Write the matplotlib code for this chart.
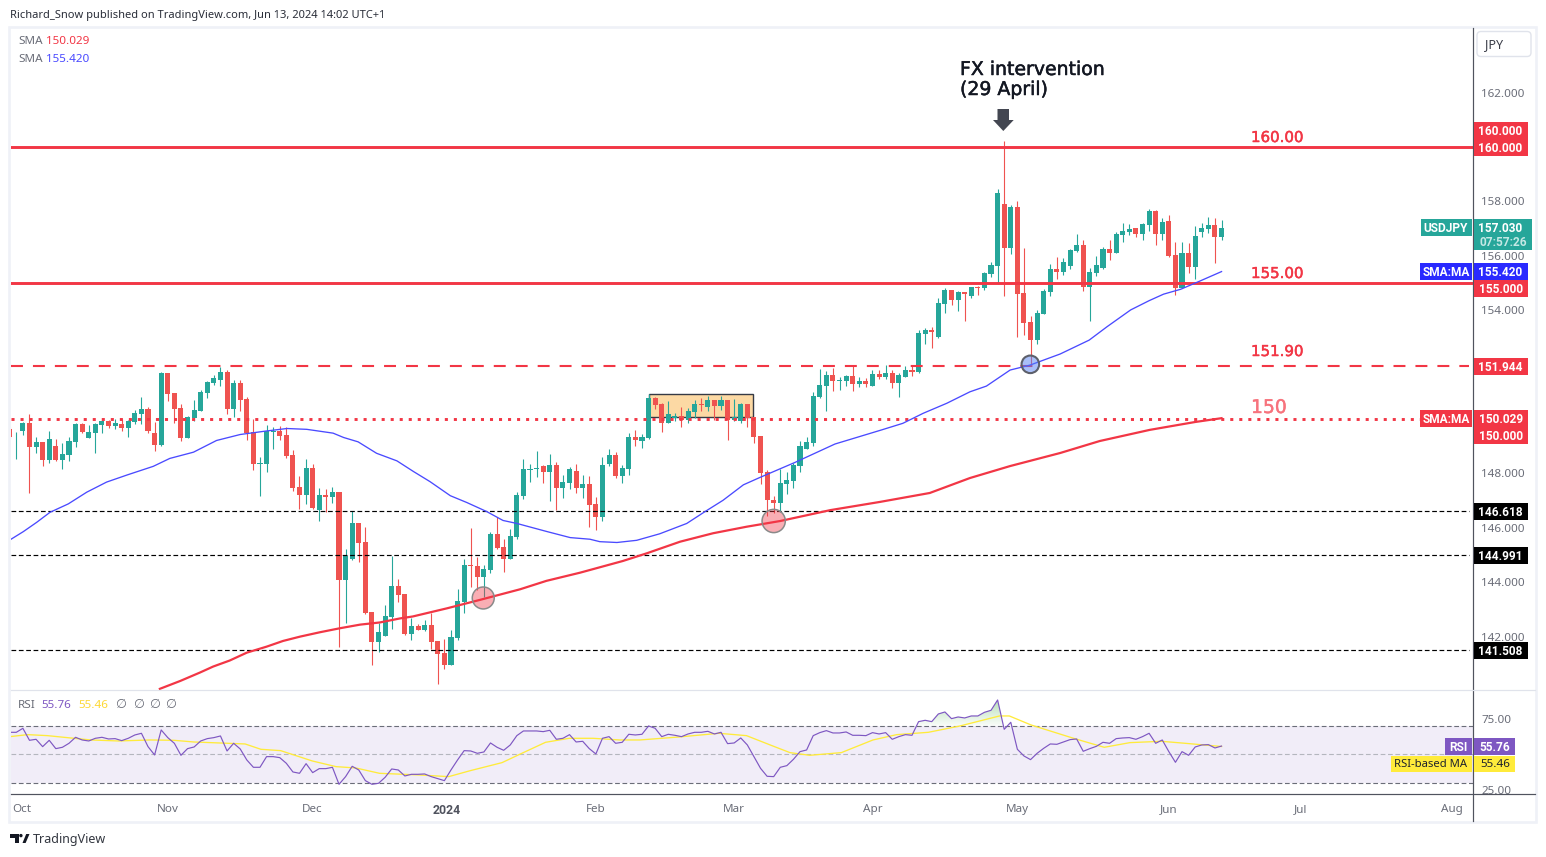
import numpy as np
import matplotlib
matplotlib.use("Agg")
import matplotlib.pyplot as plt
import matplotlib.patheffects as pe
from matplotlib.patches import Rectangle, Polygon, FancyBboxPatch, Circle
from matplotlib.path import Path
from matplotlib.transforms import Affine2D

plt.rcParams['font.family'] = ['Noto Sans', 'DejaVu Sans']
plt.rcParams['lines.scale_dashes'] = False

W, H = 1546, 857

# ------------------------------------------------ data
first_bar = -1
opens = [149.62,
 149.32,149.56,149.86,148.97,149.16,148.50,149.01,148.50,148.68,149.16,
 149.82,149.30,149.49,149.78,149.93,149.75,149.82,149.67,149.89,150.19,
 150.37,149.49,149.05,151.69,150.96,150.41,149.30,150.04,150.30,150.96,
 151.33,151.44,151.73,150.37,151.33,150.74,149.53,148.35,148.35,149.53,
 149.56,149.41,148.68,147.50,147.21,148.20,146.66,147.21,147.14,147.32,
 144.08,144.86,146.18,145.48,142.91,141.80,142.03,142.72,143.86,143.57,
 142.10,142.39,142.25,142.43,141.84,141.40,140.96,141.95,143.27,144.64,
 144.60,144.19,144.45,145.78,145.30,144.86,145.66,147.17,148.13,148.16,
 148.27,148.05,148.31,147.47,147.65,148.09,147.47,147.61,146.88,146.40,
 148.35,148.68,147.91,148.16,149.34,149.19,149.30,150.78,150.55,149.86,
 150.04,150.11,149.97,150.26,150.55,150.44,150.70,150.48,150.70,149.97,
 149.93,150.55,150.08,149.38,148.05,147.03,146.91,147.61,147.72,148.27,
 148.90,149.12,150.81,151.21,151.62,151.40,151.40,151.58,151.29,151.40,
 151.21,151.65,151.54,151.69,151.32,151.54,151.80,151.73,153.13,153.27,
 153.02,154.23,154.74,154.37,154.67,154.52,154.86,154.82,155.33,155.62,
 157.90,156.29,157.79,154.63,153.57,152.90,153.86,154.67,155.51,155.40,
 155.62,156.18,156.40,154.85,155.37,155.55,156.25,156.10,156.76,156.87,
 157.02,156.80,157.13,157.65,156.80,157.28,156.03,154.82,156.10,155.59,
 156.87,156.99,157.13,156.69]
closes = [149.33,
 149.34,149.86,148.97,149.16,148.50,149.27,148.50,148.72,149.19,149.82,
 149.53,149.53,149.82,149.93,149.75,149.86,149.67,149.93,150.22,150.37,
 149.56,149.05,151.69,150.92,150.37,149.30,150.08,150.33,151.00,151.36,
 151.51,151.73,150.37,151.33,150.70,149.49,148.35,148.39,149.56,149.56,
 149.38,148.64,147.47,147.21,148.20,146.73,147.21,147.14,147.32,144.08,
 144.97,146.18,145.44,142.87,141.80,142.17,142.76,143.86,143.53,142.10,
 142.39,142.25,142.43,141.80,141.36,140.96,141.99,143.31,144.64,144.60,
 144.19,144.49,145.78,145.26,144.86,145.70,147.21,148.16,148.16,148.20,
 148.05,148.31,147.47,147.69,148.16,147.47,147.61,146.84,146.40,148.31,
 148.68,147.91,148.20,149.34,149.23,149.34,150.78,150.52,149.86,150.19,
 150.11,149.97,150.30,150.55,150.52,150.70,150.48,150.70,149.97,150.08,
 150.55,150.04,149.34,148.02,147.03,146.91,147.65,147.76,148.31,149.01,
 149.15,150.85,151.25,151.62,151.40,151.43,151.58,151.29,151.40,151.29,
 151.65,151.54,151.69,151.32,151.62,151.80,151.73,153.16,153.27,153.20,
 154.27,154.74,154.37,154.67,154.61,154.85,154.83,155.37,155.66,158.31,
 156.29,157.79,154.60,153.53,152.90,153.90,154.70,155.51,155.40,155.77,
 156.21,156.40,154.85,155.40,155.66,156.25,156.10,156.80,156.91,156.99,
 156.80,157.17,157.65,156.80,157.24,155.99,154.82,156.10,155.59,156.73,
 157.02,157.13,156.69,157.03]
highs = [149.70,
 149.54,149.89,150.19,149.34,149.16,149.56,149.27,149.12,149.34,149.86,
 149.86,149.78,149.86,149.97,149.97,150.00,150.00,149.97,150.33,150.81,
 150.44,149.89,151.73,151.69,150.96,150.55,150.11,150.70,151.07,151.40,
 151.62,151.91,151.80,151.44,151.44,150.81,150.00,148.61,149.78,149.71,
 149.75,149.71,148.86,147.91,148.53,148.35,147.47,147.43,147.50,147.32,
 145.22,146.62,146.18,146.03,142.91,142.50,143.17,144.97,144.12,143.57,
 142.69,142.47,142.61,142.87,141.84,141.91,142.25,143.75,144.86,146.00,
 144.93,144.64,145.85,146.40,145.58,145.96,147.32,148.53,148.35,148.83,
 148.31,148.72,148.42,147.94,148.24,148.35,147.94,147.91,147.14,148.61,
 148.90,148.79,148.31,149.49,149.60,149.45,150.92,150.81,150.59,150.66,
 150.22,150.44,150.41,150.70,150.78,150.85,150.70,150.85,150.70,150.74,
 150.59,150.55,150.08,149.38,148.13,147.17,148.16,148.05,148.37,149.19,
 149.34,150.99,151.84,151.77,151.87,151.54,151.62,151.95,151.54,151.51,
 151.80,151.80,151.99,151.80,151.69,151.95,151.99,153.27,153.35,153.38,
 154.45,154.81,154.74,154.70,154.67,154.85,154.89,155.40,155.77,158.46,
 160.22,157.87,158.01,156.29,153.79,154.01,154.78,155.70,155.96,155.92,
 156.25,156.80,156.58,155.55,155.99,156.32,156.58,156.87,157.21,157.17,
 157.02,157.21,157.72,157.68,157.39,157.50,156.51,156.51,156.47,157.10,
 157.21,157.43,157.39,157.32]
lows = [149.30,
 148.53,149.43,147.28,148.75,148.27,148.39,148.46,148.16,148.46,148.97,
 149.49,149.30,148.75,149.49,149.67,149.64,149.56,149.34,149.82,149.82,
 149.49,148.83,149.01,150.66,149.86,149.19,149.30,149.93,150.30,150.78,
 151.25,151.22,150.19,150.08,150.30,149.23,148.13,147.17,148.05,148.90,
 149.23,148.57,147.36,146.69,146.88,146.69,146.25,146.58,146.91,141.62,
 142.50,144.82,144.75,142.83,140.96,141.44,142.03,142.28,143.27,142.06,
 141.88,142.25,142.21,141.55,140.26,140.81,140.96,141.88,142.87,143.83,
 143.72,143.46,144.34,145.22,144.38,144.86,145.59,147.06,147.69,147.87,
 147.65,146.99,146.66,147.10,147.43,147.28,147.10,146.03,145.92,146.25,
 148.27,147.83,147.65,147.94,149.01,148.94,149.27,150.37,149.53,149.86,
 149.93,149.71,149.86,150.04,150.30,150.30,149.97,150.33,149.23,149.93,
 149.86,149.71,149.12,147.61,146.44,146.54,146.58,147.24,147.47,148.05,
 148.90,149.01,150.76,150.29,151.03,151.07,151.21,151.03,151.18,151.18,
 151.21,151.47,151.47,151.14,150.81,151.54,151.58,151.69,152.76,152.61,
 152.98,153.90,154.19,153.97,153.60,154.45,154.56,154.74,155.22,154.96,
 154.52,156.07,153.02,153.09,151.95,152.76,153.86,154.52,155.15,155.29,
 155.51,156.14,154.70,153.60,155.26,155.51,155.85,156.10,156.51,156.76,
 156.69,156.58,156.91,156.40,156.58,155.96,154.56,154.82,155.37,155.15,
 156.69,156.84,155.74,156.58]

sma50_bar = [-1,1.07,3.09,5.12,7.9,10.7,13.7,16.8,20.8,23.3,26.9,30.4,34,38,41.1,44.1,48.1,49.7,51.9,54.7,
 57.8,60.3,62.8,65.9,68.4,71.4,73.9,76,80.6,84.1,87.1,88.6,91.2,94.2,97.7,101.8,104.6,107.3,110.4,112.9,
 118.2,124.3,131.4,134.6,137.7,141.3,144.8,147.3,150.9,153.9,158.5,162.9,165.6,169.2,172,174.2,176.8,179.7,183]
sma50_val = [145.55,145.86,146.20,146.57,146.88,147.31,147.68,147.94,148.26,148.55,148.78,149.21,149.43,149.56,149.65,149.62,149.48,149.32,149.16,148.74,
 148.46,148.07,147.70,147.18,146.93,146.60,146.27,146.16,145.86,145.64,145.58,145.49,145.46,145.54,145.78,146.16,146.60,147.01,147.58,147.85,
 148.40,149.08,149.60,149.84,150.21,150.58,151.00,151.21,151.80,151.98,152.39,152.90,153.39,154.01,154.35,154.59,154.77,155.07,155.42]

sma200_bar = [21.8,24.9,27.9,29.9,32.4,35,38,40.5,43.1,46.1,49.2,52.2,55.2,58.3,60.2,65.4,70.4,76.5,80.5,85.6,92.1,95.7,100.8,105.8,110.9,116,
 123.6,131.1,138.7,144.8,150.9,158.5,164.5,172.1,179,183]
sma200_val = [140.08,140.37,140.68,140.90,141.12,141.41,141.63,141.84,142.00,142.16,142.31,142.44,142.52,142.67,142.74,143.04,143.35,143.74,144.05,144.35,144.78,145.06,145.49,145.80,146.04,146.25,
 146.65,146.95,147.28,147.83,148.27,148.75,149.19,149.60,149.89,150.03]

rsi = [65.38,65.38,68.18,59.79,60.49,55.36,59.79,53.96,54.90,57.69,
 61.89,60.02,59.32,61.19,61.89,60.72,60.96,59.56,61.19,63.52,
 64.69,55.36,49.53,67.02,61.66,57.69,49.30,53.96,55.13,59.32,
 60.96,61.66,62.82,52.33,57.69,53.73,46.04,40.91,40.91,48.37,
 48.37,47.67,43.71,37.65,36.71,43.47,37.18,39.98,39.98,40.91,
 29.02,34.38,41.61,39.04,31.58,29.02,29.72,33.92,39.74,39.04,
 34.85,36.01,36.01,36.25,34.38,32.98,31.58,39.04,46.04,52.56,
 52.33,50.70,51.63,57.93,54.90,52.80,56.53,63.05,66.32,66.32,
 66.32,65.85,66.78,60.49,61.19,63.75,58.62,59.09,53.96,50.23,
 61.19,62.35,57.69,
 58.39,63.99,63.52,63.99,69.81,68.18,62.35,63.99,63.29,62.35,
 64.22,65.38,65.38,66.08,64.22,65.38,57.46,57.93,61.42,56.53,
 48.37,40.21,34.62,34.38,40.91,42.07,46.50,51.86,53.03,63.05,
 65.15,66.55,64.92,64.92,65.62,63.29,63.29,63.05,65.15,64.22,
 65.15,60.49,62.35,63.75,63.29,72.84,73.78,72.84,78.21,79.60,
 74.94,76.11,75.41,76.81,76.81,79.37,80.77,88.00,67.48,72.38,
 53.50,48.83,46.27,50.70,54.20,57.23,56.99,58.62,60.26,60.72,
 52.10,53.96,55.59,58.39,57.69,60.96,61.42,61.66,60.49,62.35,
 64.69,57.69,60.02,51.86,44.41,51.86,49.30,55.13,56.53,56.76,
 54.43,55.76]

rsi_ma_bar = [-0.97,1.73,4.73,7.73,11.33,15.53,20.33,23.93,26.93,34.74,37.14,40.14,44.94,48.54,51.55,55.15,61.15,65.65,68.95,73.75,76.76,80.36,83.96,87.56,91.66,
 94.66,100.66,106.67,110.87,114.47,117.47,120.47,125.27,130.07,133.68,138.48,143.28,149.28,150.78,154.08,160.69,165.19,169.09,173.89,177.49,183]
rsi_ma_val = [62.35,63.75,63.05,61.66,60.02,59.32,60.02,59.79,58.62,57.23,53.50,52.56,45.34,41.38,40.44,36.71,35.55,34.38,38.58,44.17,50.70,58.39,61.19,61.19,60.02,
 60.02,62.12,64.69,63.05,56.53,51.17,49.30,51.17,60.02,63.75,65.38,69.81,76.81,76.81,70.51,60.96,54.90,58.16,59.09,57.69,55.46]

level_solid = [160.0, 155.0]
level_dash = 151.944
level_dot = 150.0
level_black = [146.618, 144.991, 141.508]

price_ticks = [142, 144, 146, 148, 154, 156, 158, 162]
rsi_ticks = [25, 75]
rsi_levels = [30, 50, 70]
month_bars = [0.9, 23, 45, 65.4, 88, 109, 130, 152, 175, 195, 218]
month_labels = ['Oct', 'Nov', 'Dec', '2024', 'Feb', 'Mar', 'Apr', 'May', 'Jun', 'Jul', 'Aug']

range_box = (96.0, 111.9, 150.06, 150.92)
marker_bar = [70.9, 115.0, 153.97]
marker_val = [143.42, 146.25, 152.01]

# ------------------------------------------------ colours
UP, DOWN = '#26a69a', '#ef5350'
RED, BLUE, PURPLE, YELLOW = '#f23645', '#2a2aff', '#7e57c2', '#ffeb3b'
AXIS, LABEL, FRAME = '#50535e', '#6a6d78', '#eff1f7'

# ------------------------------------------------ layout helpers
fig = plt.figure(figsize=(W / 100, H / 100), dpi=100, facecolor='white')
PX = Affine2D().scale(1, -1).translate(0, H)   # picture pixels, y down
RB = ['Roboto', 'DejaVu Sans']
DJ = ['DejaVu Sans']

def fx(x): return x / W
def fy(y): return 1 - y / H
def ax_px(x0, y0, x1, y1):
    return fig.add_axes([fx(x0), fy(y1), (x1 - x0) / W, (y1 - y0) / H])
def box(x0, y0, x1, y1, color, z=5):
    fig.add_artist(Rectangle((fx(x0), fy(y1)), (x1 - x0) / W, (y1 - y0) / H, transform=fig.transFigure,
                             facecolor=color, edgecolor='none', zorder=z))
def label(x, y, s, color='white', size=8.4, weight='normal', ha='left', z=6, family=None, heavy=0):
    kw = {} if family is None else {'family': family}
    t = fig.text(fx(x), fy(y + 1), s, color=color, fontsize=size, fontweight=weight, ha=ha, va='center', zorder=z, **kw)
    if heavy:
        t.set_path_effects([pe.withStroke(linewidth=heavy, foreground=color)])
    return t
def tag(x, y, s, ha='right', size=8.6):
    return label(x, y, s, size=size, weight='bold', ha=ha, family=RB)
def hline(x0, x1, y, color, lw):
    fig.add_artist(plt.Line2D([fx(x0), fx(x1)], [fy(y), fy(y)], transform=fig.transFigure, color=color, lw=lw * .72, zorder=4))
def vline(x, y0, y1, color, lw):
    fig.add_artist(plt.Line2D([fx(x), fx(x)], [fy(y0), fy(y1)], transform=fig.transFigure, color=color, lw=lw * .72, zorder=4))

X0, X1 = 10.5, 1472.5
BAR_PX = 6.586
xlim = ((X0 - 16.3) / BAR_PX, (X1 - 16.3) / BAR_PX)

# ------------------------------------------------ price pane
ax = ax_px(X0, 28, X1, 689.5)
ax.set_xlim(xlim)
ax.set_ylim(160 - (689.5 - 147) / 27.2, 160 - (28 - 147) / 27.2)
for s in ax.spines.values():
    s.set_visible(False)
ax.set_xticks([])
ax.yaxis.tick_right()
ax.set_yticks(price_ticks)
ax.set_yticklabels(['%.3f' % t for t in price_ticks])
ax.tick_params(axis='y', length=0, pad=6.2, labelsize=8.4, labelcolor=LABEL)

ax.add_patch(Rectangle((range_box[0], range_box[2]), range_box[1] - range_box[0], range_box[3] - range_box[2],
                       facecolor='#fcd9a4', edgecolor='#363a45', lw=1.0, zorder=1))

o, h, l, c = map(np.array, (opens, highs, lows, closes))
bars = np.arange(first_bar, first_bar + len(o))
cols = np.where(c >= o, UP, DOWN)
ax.vlines(bars, l, h, colors=cols, lw=0.8, zorder=3)
ax.bar(bars, np.maximum(np.abs(c - o), 0.03), bottom=np.minimum(o, c), width=0.77, color=cols, lw=0, zorder=3)

for lv in level_solid:
    ax.axhline(lv, color=RED, lw=2.1, zorder=4)
ax.plot([xlim[0], 220.5], [level_dash, level_dash], color=RED, lw=1.5, dashes=(8.6, 7.2), dash_capstyle='butt', zorder=4)
ax.plot([xlim[0], 220.5], [level_dot, level_dot], color=RED, lw=2.1, dashes=(2.2, 4.3), dash_capstyle='butt', zorder=4)
for lv in level_black:
    ax.plot([xlim[0], 220.5], [lv, lv], color='black', lw=0.85, dashes=(3.4, 1.9), dash_capstyle='butt', zorder=4)

ax.plot(sma50_bar, sma50_val, color='#4a4aff', lw=0.95, zorder=5)
ax.plot(sma200_bar, sma200_val, color=RED, lw=1.6, zorder=5)

sizes = [250, 280, 160]
faces = [(0.949, 0.212, 0.27, 0.4), (0.949, 0.212, 0.27, 0.4), (0.33, 0.5, 0.95, 0.5)]
edges = ['#8a8a8a', '#8a8a8a', '#5d606b']
ax.scatter(marker_bar, marker_val, s=sizes, facecolors=faces, edgecolors=edges, linewidths=[1.1, 1.1, 1.5], zorder=6)

# ------------------------------------------------ RSI pane
ax2 = ax_px(X0, 690, X1, 794.3)
ylim2 = (50 - (794.3 - 754.3) / 1.43, 50 + (754.3 - 690) / 1.43)
ax2.set_xlim(xlim)
ax2.set_ylim(ylim2)
for s in ax2.spines.values():
    s.set_visible(False)
ax2.axhspan(rsi_levels[0], rsi_levels[2], color=PURPLE, alpha=0.1, lw=0, zorder=1)
ax2.plot(xlim, [rsi_levels[2]] * 2, color=LABEL, lw=0.8, dashes=(3.4, 1.9), zorder=2)
ax2.plot(xlim, [rsi_levels[0]] * 2, color=LABEL, lw=0.8, dashes=(3.4, 1.9), zorder=2)
ax2.plot(xlim, [rsi_levels[1]] * 2, color='#b4b6be', lw=0.8, dashes=(3.4, 1.9), zorder=2)

rb = np.arange(first_bar, first_bar + len(rsi))
rv = np.array(rsi)
fill = ax2.fill_between(rb, rv, 70, where=rv >= 70, interpolate=True, color='none', lw=0, zorder=2)
rgba = np.zeros((64, 1, 4))
rgba[..., 0], rgba[..., 1], rgba[..., 2] = 0.30, 0.69, 0.31
rgba[:, 0, 3] = np.linspace(0.40, 0.03, 64)
im = ax2.imshow(rgba, extent=[130, 155, 70, 88], aspect='auto', zorder=2, origin='upper')
im.set_clip_path(Path.make_compound_path(*fill.get_paths()), transform=ax2.transData)
ax2.set_xlim(xlim)
ax2.set_ylim(ylim2)

ax2.plot(rsi_ma_bar, rsi_ma_val, color=YELLOW, lw=0.95, zorder=3)
ax2.plot(rb, rv, color=PURPLE, lw=0.85, zorder=4)

ax2.yaxis.tick_right()
ax2.set_yticks(rsi_ticks)
ax2.set_yticklabels(['%.2f' % t for t in rsi_ticks])
ax2.tick_params(axis='y', length=0, pad=6.2, labelsize=8.4, labelcolor=LABEL)
ax2.set_xticks(month_bars)
ax2.set_xticklabels(month_labels)
ax2.tick_params(axis='x', length=0, pad=7.0, labelsize=8.4, labelcolor=LABEL)
yr = ax2.get_xticklabels()[3]
yr.set_family(RB)
yr.set_fontweight('bold')
yr.set_fontsize(8.8)
yr.set_color('#50535e')

# ------------------------------------------------ frame
fig.add_artist(Rectangle((fx(9), fy(822)), (1536 - 9) / W, (822 - 26.5) / H, transform=fig.transFigure,
                         facecolor='none', edgecolor=FRAME, lw=1.9, zorder=3))
vline(1472.5, 28, 821, AXIS, 1.2)
hline(10.5, 1535, 794.3, AXIS, 1.2)
hline(10.5, 1535, 689.5, '#e0e3eb', 1.2)

# ------------------------------------------------ price-scale labels
RX0, RX1 = 1473.5, 1528
TXT = 1522.7
box(RX0, 122, RX1, 156, RED)
tag(TXT, 130.5, '160.000')
tag(TXT, 147.5, '160.000')
box(1421, 219, 1471.5, 236, UP)
tag(1446, 227.5, 'USDJPY', ha='center')
box(RX0, 219, 1532, 250, UP)
tag(TXT, 227.5, '157.030')
label(1527.5, 241.2, '07:57:26', color='#c4e8e4', ha='right', size=8.6, family=RB, weight='bold')
box(1420, 263, 1471.5, 280, BLUE)
tag(1446, 271.5, 'SMA:MA', ha='center')
box(RX0, 263, RX1, 280, BLUE)
tag(TXT, 271.5, '155.420')
box(RX0, 280, RX1, 297, RED)
tag(TXT, 288.5, '155.000')
box(RX0, 358, RX1, 375, RED)
tag(TXT, 366.5, '151.944')
box(1420, 410, 1471.5, 427, RED)
tag(1446, 418.5, 'SMA:MA', ha='center')
box(RX0, 410, RX1, 444, RED)
tag(TXT, 418.5, '150.029')
tag(TXT, 435.5, '150.000')
for top, txt in ((503, '146.618'), (547, '144.991'), (642, '141.508')):
    box(RX0, top, RX1, top + 17, 'black')
    tag(TXT, top + 8.5, txt)
box(1445, 738, 1471.5, 755, PURPLE)
tag(1458, 746.5, 'RSI', ha='center')
box(RX0, 738, 1515, 755, PURPLE)
tag(1510, 746.5, '55.76')
box(1391, 755.5, 1471.5, 772, YELLOW)
label(1466.5, 763.8, 'RSI-based MA', color='#1e222d', ha='right', size=8.1)
box(RX0, 755.5, 1515, 772, YELLOW)
label(1510, 763.8, '55.46', color='#1e222d', ha='right')

# JPY button
fig.add_artist(FancyBboxPatch((1477, 31.5), 54, 25, boxstyle='round,pad=0,rounding_size=4',
                              transform=PX, facecolor='white', edgecolor='#e0e3eb', lw=1.0, zorder=5))
label(1485, 43.5, 'JPY', color='#3a3d48', size=9.0)

# ------------------------------------------------ annotations on the chart
label(1251, 136.5, '160.00', color=RED, size=10.8, family=DJ, heavy=0.35)
label(1251, 272.5, '155.00', color=RED, size=10.8, family=DJ, heavy=0.35)
label(1251, 350.5, '151.90', color=RED, size=10.8, family=DJ, heavy=0.35)
label(1251, 406.5, '150', color='#f7737d', size=13.5, family=DJ, heavy=0.3)
label(960, 68.5, 'FX intervention', color='#131722', size=13.6, family=DJ, heavy=0.35)
label(960, 88.5, '(29 April)', color='#131722', size=13.6, family=DJ, heavy=0.35)
arrow_px = [(997.5, 109), (1009, 109), (1009, 120), (1013.7, 120), (1003.3, 131), (993, 120), (997.5, 120)]
fig.add_artist(Polygon([(fx(a), fy(b)) for a, b in arrow_px], closed=True, transform=fig.transFigure,
                       facecolor='#434651', edgecolor='none', zorder=6))

# ------------------------------------------------ legends
label(18, 41, 'SMA', color=LABEL)
label(46, 41, '150.029', color=RED)
label(18, 58, 'SMA', color=LABEL)
label(46, 58, '155.420', color='#4a4aff')
label(18, 704, 'RSI', color=LABEL)
label(41, 704, '55.76', color=PURPLE)
label(78.5, 704, '55.46', color='#fdd835')
for xp in (115, 133, 149, 165):
    label(xp, 704, '\u2205', color=LABEL, size=9.0, family=DJ)

label(10, 14.5, 'Richard_Snow published on TradingView.com, Jun 13, 2024 14:02 UTC+1', color='#2a2e39', size=8.0)

# ------------------------------------------------ logo and footer
logo_px = [[(10, 834), (18.5, 834), (18.5, 843), (14.5, 843), (14.5, 837.5), (10, 837.5)],
           [(22.5, 843), (26.2, 834), (29.5, 834), (25.6, 843)]]
for pts in logo_px:
    fig.add_artist(Polygon([(fx(a), fy(b)) for a, b in pts], closed=True, transform=fig.transFigure,
                           facecolor='#131722', edgecolor='none', zorder=6))
fig.add_artist(Circle((20.9, 835.6), 1.7, transform=PX, facecolor='#131722', edgecolor='none', zorder=6))
label(33, 838.5, 'TradingView', color='#333740', size=9.0)

fig.savefig('out.png', dpi=100, facecolor='white')
